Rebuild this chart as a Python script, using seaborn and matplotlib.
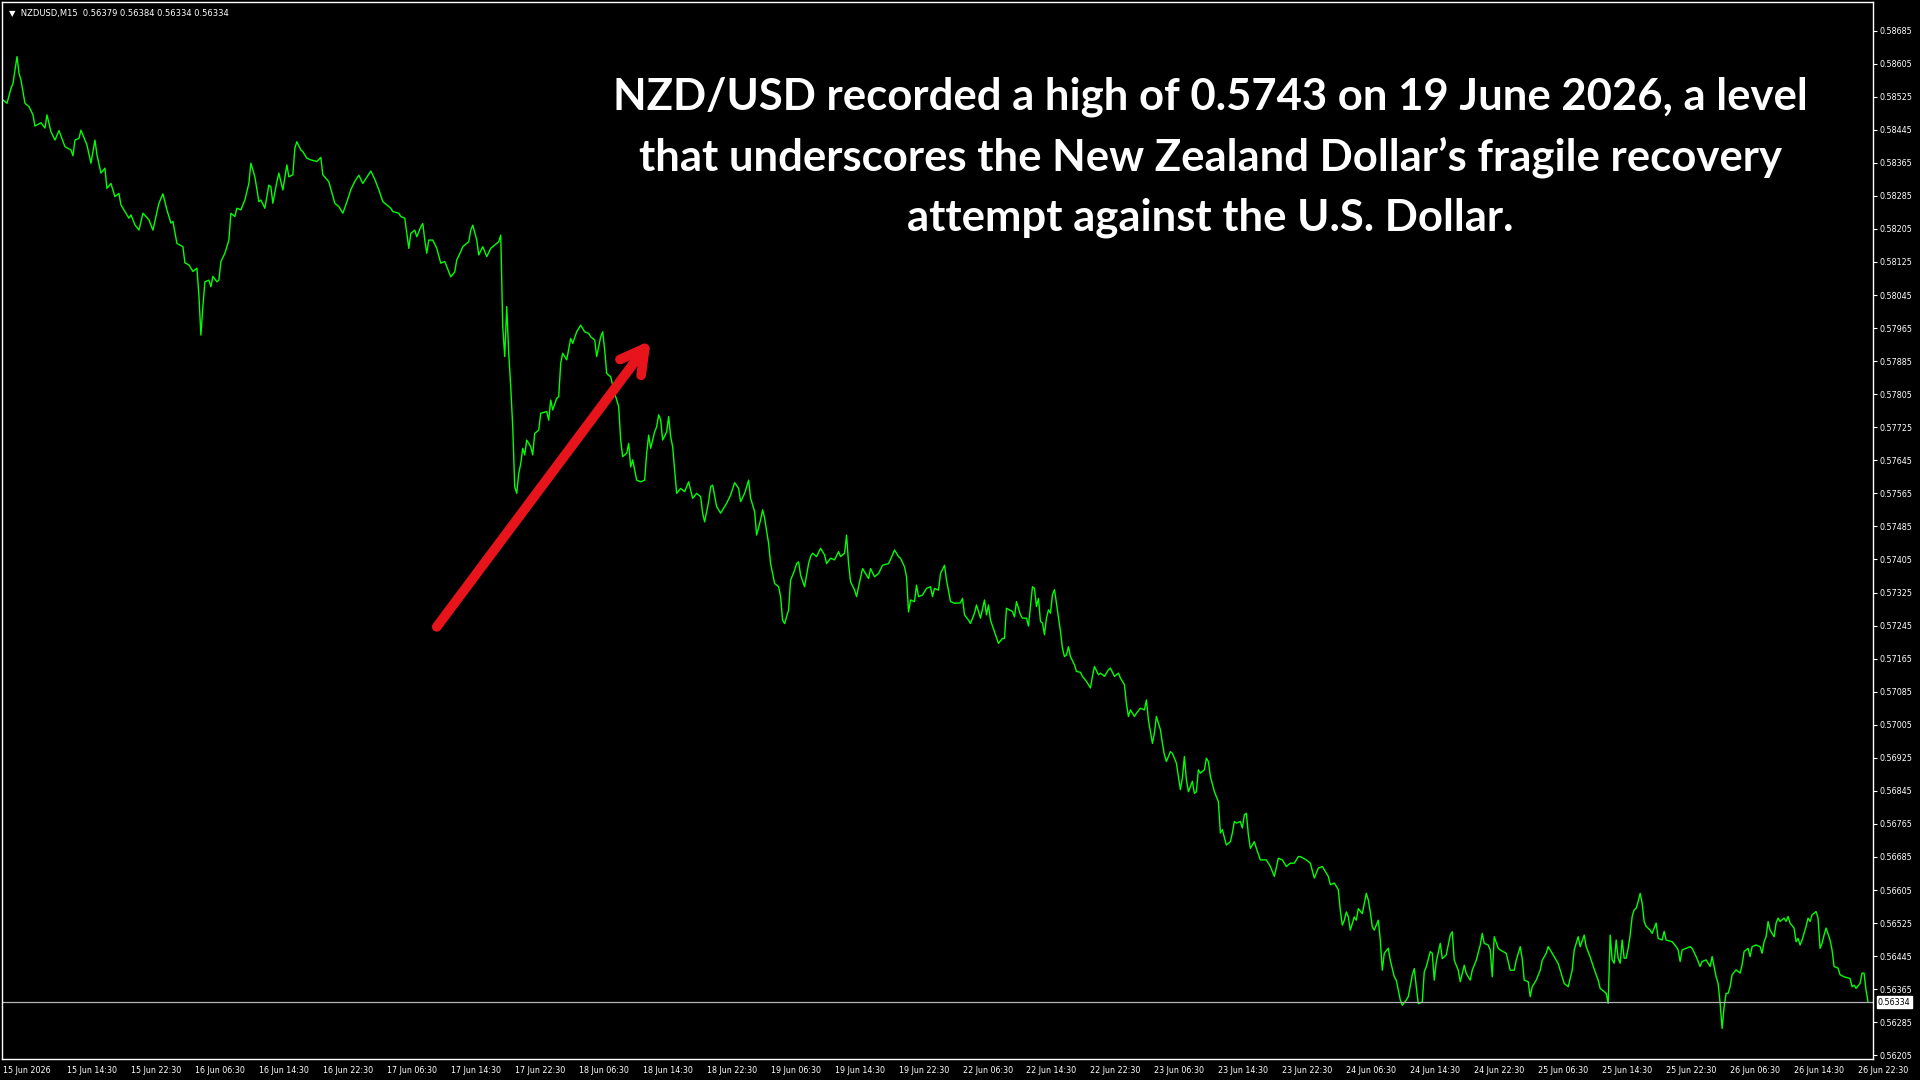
import matplotlib
matplotlib.use('Agg')
import matplotlib.pyplot as plt
import matplotlib.transforms as mtransforms
import numpy as np
import seaborn as sns

# M15 bar index (0 = 15 Jun 06:30) and close price
bar_idx = [0, 2, 4, 5, 7, 8, 9, 11, 13, 15, 16, 19, 21, 22, 24, 26, 28, 31, 34, 35,
           36, 38, 39, 42, 44, 46, 47, 49, 51, 52, 54, 56, 58, 59, 63, 64, 66, 68, 70, 73,
           75, 78, 80, 82, 84, 85, 87, 90, 91, 93, 95, 97, 98, 99, 100, 101, 103, 104, 105, 107,
           108, 109, 111, 113, 114, 116, 117, 119, 121, 123, 124, 126, 128, 129, 131, 133, 134, 135, 137, 138,
           140, 142, 143, 145, 146, 147, 149, 150, 152, 154, 157, 159, 160, 163, 166, 168,
           170, 172, 174, 176, 178, 180, 182, 184, 186, 188,
           190, 192, 194, 195, 198, 199, 201, 202, 203, 204, 206, 207, 209, 210, 211, 212, 213, 215, 217, 219,
           221, 223, 224, 226, 227, 229, 230, 233, 234, 235, 237, 238, 240, 242, 244, 246, 248, 249, 250, 251,
           252, 253, 254, 255, 256, 257, 258, 259, 260, 261, 262, 264, 265, 266, 268, 269, 272, 273, 274, 275,
           277, 278, 279, 280, 282, 284, 285, 287, 289, 291, 293, 294, 296, 297, 299, 300, 301, 302, 304, 306,
           308, 309, 310, 312, 313, 314, 315, 317, 319, 321,
           322, 323, 324, 326, 327, 328, 329, 330, 332, 333, 334, 335, 336, 337, 339, 341, 343, 345, 347, 349,
           350, 351, 353, 354, 355, 357, 359, 362, 364, 366, 368, 369, 371, 372, 373, 374, 376, 377, 379, 380,
           381, 383, 384, 386, 388, 389, 390, 391, 393, 394, 396, 397, 398, 399, 401, 403, 404, 405, 407, 409,
           411, 412, 414, 416, 418, 419, 421, 422, 423, 424, 426, 427, 428, 430, 431, 433, 434, 436, 438, 440,
           443, 445, 446, 448, 449, 451, 452, 453, 454, 456, 457, 458, 460, 462, 464, 465, 466, 468, 469, 471,
           472, 474, 476, 479, 480, 481, 483, 484, 486, 487, 489, 491, 492, 493, 494, 496, 498, 500, 501, 502,
           505, 506, 507, 509, 510, 512, 513, 515, 516, 517, 518,
           519, 520, 521, 522, 523, 524, 525, 526, 527, 529, 530, 531, 532, 533, 534, 536, 537, 539, 540, 542,
           544, 545, 546, 548, 549, 551, 553, 554, 556, 558, 559, 561, 562, 563, 564, 566, 567, 569, 571, 572,
           573, 575, 576, 577, 579, 580, 581, 582, 584, 585, 587, 588, 589, 590, 591, 592, 593, 595, 596, 597,
           598, 599, 601, 602, 603, 604, 606, 608, 609, 610, 612, 614, 615, 616, 617, 619, 620, 621, 622, 623,
           624, 626, 627, 629, 632, 634, 636, 638, 640, 642, 644, 646, 648, 649, 652, 654, 656, 658, 660, 663,
           664, 666, 668,
           669, 670, 671, 672, 673, 674, 676, 677, 678, 680, 682, 683, 684, 685, 686, 688, 689, 690, 691, 693,
           694, 696, 697, 699, 700, 702, 703, 705, 706, 707, 708, 710, 711, 712, 714, 715, 716, 717, 719, 720,
           722, 724, 725, 726, 728, 729, 731, 732, 734, 735, 737, 739, 740, 741, 743, 744, 745, 746, 748, 749,
           752, 754, 756, 757, 759, 760, 761, 763, 764, 765, 767, 769, 770, 772, 773, 775, 778, 779, 781, 783,
           785, 786, 788, 789, 791, 792, 794,
           795, 797, 798, 799, 801, 802, 803, 804, 805, 806, 807, 808, 809, 810, 811, 812, 813, 814, 815, 816,
           817, 818, 819, 820, 821, 822, 824, 825, 826, 827, 828, 830, 831, 832, 835, 837, 838, 839, 840, 842,
           844, 845, 847, 849, 850, 852, 854, 855, 857, 858, 859, 860, 861, 862, 863, 864, 865, 867, 869, 870,
           871, 873, 874, 875, 877, 879, 880, 881, 882, 883, 884, 886, 887, 888, 889, 891, 892, 893, 894, 896,
           897, 898, 899, 900, 902, 903, 904, 905, 907, 908, 909, 910, 911, 912, 914, 915, 916, 918, 919, 921,
           924, 925, 926, 927, 929, 930, 931, 932, 933]

close = [0.58517, 0.58509, 0.58545, 0.58557, 0.58622, 0.58582, 0.58565, 0.58509, 0.58501, 0.58481,
         0.58454, 0.58462, 0.58449, 0.58481, 0.58440, 0.58420, 0.58443, 0.58404, 0.58396, 0.58382,
         0.58420, 0.58424, 0.58444, 0.58408, 0.58364, 0.58420, 0.58384, 0.58340, 0.58352, 0.58303,
         0.58315, 0.58283, 0.58291, 0.58263, 0.58231, 0.58239, 0.58215, 0.58202, 0.58243, 0.58227,
         0.58202, 0.58267, 0.58290, 0.58251, 0.58219, 0.58223, 0.58170, 0.58162, 0.58123, 0.58118,
         0.58102, 0.58110, 0.58045, 0.57948, 0.58017, 0.58077, 0.58081, 0.58065, 0.58090, 0.58077,
         0.58081, 0.58126, 0.58146, 0.58178, 0.58243, 0.58235, 0.58255, 0.58251, 0.58275, 0.58315,
         0.58364, 0.58331, 0.58271, 0.58275, 0.58255, 0.58311, 0.58307, 0.58267, 0.58319, 0.58340,
         0.58299, 0.58360, 0.58331, 0.58336, 0.58400, 0.58416, 0.58396, 0.58392, 0.58376, 0.58372,
         0.58368, 0.58378, 0.58336, 0.58319, 0.58267, 0.58259,
         0.58243, 0.58270, 0.58300, 0.58320, 0.58335, 0.58315, 0.58330, 0.58345, 0.58325, 0.58300,
         0.58271, 0.58263, 0.58255, 0.58247, 0.58243, 0.58235, 0.58231, 0.58194, 0.58158, 0.58194,
         0.58202, 0.58186, 0.58210, 0.58218, 0.58178, 0.58146, 0.58178, 0.58178, 0.58158, 0.58122,
         0.58126, 0.58101, 0.58089, 0.58101, 0.58130, 0.58150, 0.58162, 0.58174, 0.58202, 0.58214,
         0.58178, 0.58142, 0.58162, 0.58138, 0.58158, 0.58166, 0.58174, 0.58190, 0.57968, 0.57896,
         0.58017, 0.57904, 0.57823, 0.57726, 0.57581, 0.57565, 0.57613, 0.57637, 0.57674, 0.57658,
         0.57694, 0.57678, 0.57658, 0.57710, 0.57718, 0.57759, 0.57763, 0.57742, 0.57791, 0.57767,
         0.57795, 0.57799, 0.57880, 0.57904, 0.57888, 0.57940, 0.57928, 0.57956, 0.57972, 0.57956,
         0.57952, 0.57944, 0.57936, 0.57896, 0.57944, 0.57956, 0.57912, 0.57855, 0.57847, 0.57807,
         0.57775, 0.57694, 0.57654, 0.57662, 0.57686, 0.57629, 0.57646, 0.57597, 0.57593, 0.57597,
         0.57662, 0.57706, 0.57674, 0.57714, 0.57726, 0.57755, 0.57743, 0.57694, 0.57714, 0.57751,
         0.57702, 0.57678, 0.57622, 0.57565, 0.57577, 0.57569, 0.57593, 0.57553, 0.57565, 0.57557,
         0.57517, 0.57496, 0.57545, 0.57581, 0.57585, 0.57533, 0.57517, 0.57541, 0.57561, 0.57591,
         0.57577, 0.57545, 0.57565, 0.57581, 0.57597, 0.57553, 0.57521, 0.57464, 0.57501, 0.57525,
         0.57505, 0.57444, 0.57395, 0.57347, 0.57339, 0.57315, 0.57258, 0.57250, 0.57283, 0.57355,
         0.57379, 0.57395, 0.57399, 0.57367, 0.57339, 0.57395, 0.57412, 0.57420, 0.57412, 0.57432,
         0.57416, 0.57395, 0.57408, 0.57404, 0.57424, 0.57412, 0.57420, 0.57464, 0.57395, 0.57351,
         0.57331, 0.57315, 0.57339, 0.57383, 0.57375, 0.57359, 0.57383, 0.57363, 0.57371, 0.57391,
         0.57395, 0.57416, 0.57428, 0.57412, 0.57408, 0.57387, 0.57363, 0.57278, 0.57307, 0.57303,
         0.57343, 0.57315, 0.57319, 0.57335, 0.57339, 0.57315, 0.57335, 0.57331, 0.57371, 0.57391,
         0.57355, 0.57303, 0.57299, 0.57300, 0.57311, 0.57271, 0.57258, 0.57250, 0.57275, 0.57295,
         0.57263, 0.57307, 0.57271, 0.57295, 0.57258, 0.57230, 0.57202, 0.57214, 0.57214, 0.57287,
         0.57279, 0.57266, 0.57303, 0.57271, 0.57263, 0.57263, 0.57244, 0.57339, 0.57335, 0.57291,
         0.57311,
         0.57255, 0.57251, 0.57223, 0.57263, 0.57283, 0.57275, 0.57320, 0.57332, 0.57299, 0.57231,
         0.57190, 0.57170, 0.57174, 0.57194, 0.57170, 0.57150, 0.57134, 0.57132, 0.57122, 0.57110,
         0.57094, 0.57122, 0.57146, 0.57126, 0.57130, 0.57122, 0.57138, 0.57142, 0.57122, 0.57130,
         0.57118, 0.57102, 0.57057, 0.57025, 0.57041, 0.57025, 0.57033, 0.57045, 0.57041, 0.57065,
         0.57017, 0.56960, 0.56985, 0.57025, 0.56993, 0.56960, 0.56932, 0.56916, 0.56940, 0.56936,
         0.56912, 0.56880, 0.56848, 0.56876, 0.56928, 0.56872, 0.56843, 0.56868, 0.56839, 0.56843,
         0.56896, 0.56888, 0.56896, 0.56924, 0.56916, 0.56880, 0.56843, 0.56819, 0.56743, 0.56751,
         0.56714, 0.56722, 0.56743, 0.56771, 0.56767, 0.56771, 0.56755, 0.56787, 0.56791, 0.56739,
         0.56706, 0.56722, 0.56706, 0.56678, 0.56678, 0.56662, 0.56638, 0.56682, 0.56678, 0.56662,
         0.56670, 0.56670, 0.56686, 0.56686, 0.56678, 0.56670, 0.56634, 0.56658, 0.56662, 0.56638,
         0.56618, 0.56622, 0.56606,
         0.56556, 0.56520, 0.56532, 0.56552, 0.56540, 0.56508, 0.56540, 0.56532, 0.56560, 0.56548,
         0.56597, 0.56581, 0.56552, 0.56516, 0.56508, 0.56532, 0.56484, 0.56411, 0.56452, 0.56464,
         0.56435, 0.56395, 0.56387, 0.56339, 0.56326, 0.56339, 0.56347, 0.56399, 0.56415, 0.56371,
         0.56330, 0.56334, 0.56407, 0.56419, 0.56456, 0.56452, 0.56387, 0.56431, 0.56476, 0.56439,
         0.56448, 0.56496, 0.56504, 0.56435, 0.56411, 0.56383, 0.56423, 0.56403, 0.56387, 0.56411,
         0.56435, 0.56472, 0.56500, 0.56476, 0.56472, 0.56460, 0.56395, 0.56492, 0.56464, 0.56460,
         0.56452, 0.56411, 0.56411, 0.56435, 0.56468, 0.56439, 0.56387, 0.56383, 0.56347, 0.56371,
         0.56387, 0.56411, 0.56435, 0.56452, 0.56468, 0.56452, 0.56427, 0.56411, 0.56379, 0.56371,
         0.56411, 0.56460, 0.56492, 0.56468, 0.56496, 0.56468, 0.56443,
         0.56428, 0.56400, 0.56387, 0.56367, 0.56359, 0.56355, 0.56331, 0.56496, 0.56436, 0.56428,
         0.56484, 0.56440, 0.56428, 0.56484, 0.56440, 0.56440, 0.56464, 0.56496, 0.56541, 0.56557,
         0.56561, 0.56577, 0.56597, 0.56573, 0.56529, 0.56517, 0.56508, 0.56500, 0.56513, 0.56525,
         0.56488, 0.56484, 0.56505, 0.56484, 0.56480, 0.56468, 0.56460, 0.56432, 0.56460, 0.56464,
         0.56468, 0.56464, 0.56444, 0.56420, 0.56432, 0.56436, 0.56420, 0.56444, 0.56395, 0.56379,
         0.56331, 0.56270, 0.56323, 0.56355, 0.56355, 0.56371, 0.56400, 0.56412, 0.56404, 0.56424,
         0.56456, 0.56464, 0.56444, 0.56468, 0.56472, 0.56468, 0.56452, 0.56480, 0.56492, 0.56529,
         0.56508, 0.56492, 0.56525, 0.56537, 0.56529, 0.56537, 0.56529, 0.56541, 0.56525, 0.56513,
         0.56480, 0.56488, 0.56472, 0.56484, 0.56517, 0.56537, 0.56529, 0.56545, 0.56553, 0.56537,
         0.56464, 0.56476, 0.56496, 0.56513, 0.56484, 0.56460, 0.56420, 0.56416, 0.56400, 0.56395,
         0.56391, 0.56371, 0.56375, 0.56367, 0.56379, 0.56404, 0.56404, 0.56363, 0.56334]

time_labels = ['15 Jun 2026', '15 Jun 14:30', '15 Jun 22:30', '16 Jun 06:30', '16 Jun 14:30',
               '16 Jun 22:30', '17 Jun 06:30', '17 Jun 14:30', '17 Jun 22:30', '18 Jun 06:30',
               '18 Jun 14:30', '18 Jun 22:30', '19 Jun 06:30', '19 Jun 14:30', '19 Jun 22:30',
               '22 Jun 06:30', '22 Jun 14:30', '22 Jun 22:30', '23 Jun 06:30', '23 Jun 14:30',
               '23 Jun 22:30', '24 Jun 06:30', '24 Jun 14:30', '24 Jun 22:30', '25 Jun 06:30',
               '25 Jun 14:30', '25 Jun 22:30', '26 Jun 06:30', '26 Jun 14:30', '26 Jun 22:30']
bars_per_label = 32

price_ticks = [0.58685, 0.58605, 0.58525, 0.58445, 0.58365, 0.58285, 0.58205, 0.58125,
               0.58045, 0.57965, 0.57885, 0.57805, 0.57725, 0.57645, 0.57565, 0.57485,
               0.57405, 0.57325, 0.57245, 0.57165, 0.57085, 0.57005, 0.56925, 0.56845,
               0.56765, 0.56685, 0.56605, 0.56525, 0.56445, 0.56365, 0.56285, 0.56205]

last_price = 0.56334
header = '\u25bc  NZDUSD,M15  0.56379 0.56384 0.56334 0.56334'
headline = ('NZD/USD recorded a high of 0.5743 on 19 June 2026, a level\n'
            'that underscores the New Zealand Dollar\u2019s fragile recovery\n'
            'attempt against the U.S. Dollar.')
# arrow annotation: tail / head as (bar index, price)
arrow_tail = (217, 0.57242)
arrow_head = (324, 0.57935)

sns.set_style('dark')
plt.rcParams['font.family'] = ['DejaVu Sans']

fig = plt.figure(figsize=(19.2, 10.8), dpi=100, facecolor='black')
ax = fig.add_axes([0.00104, 0.0194, 0.9745, 0.9787])
ax.set_facecolor('black')

sns.lineplot(x=bar_idx, y=close, color='#00ff00', linewidth=1.0, ax=ax)
ax.axhline(last_price, color='#b4b4b8', linewidth=0.9)

ax.set_xlim(-0.5, 935.5)
ax.set_ylim(0.56196, 0.58754)

for s in ax.spines.values():
    s.set_color('white')
    s.set_linewidth(1.0)

ax.grid(False)
ax.set_xlabel('')
ax.set_ylabel('')

ax.set_xticks([k * bars_per_label for k in range(len(time_labels))])
ax.set_xticklabels(time_labels, ha='left', fontsize=5.8, color='white')
ax.yaxis.tick_right()
ax.set_yticks(price_ticks)
ax.set_yticklabels([f'{t:.5f}' for t in price_ticks], fontsize=5.8, color='white')
ax.tick_params(axis='both', colors='white', length=3, width=0.8, pad=1.5)
ax.tick_params(axis='x', pad=2)

# last price box on the price scale
tr = mtransforms.blended_transform_factory(ax.transAxes, ax.transData)
ax.text(1.0025, last_price, f'{last_price:.5f}', transform=tr, fontsize=5.8,
        color='black', va='center', ha='left',
        bbox=dict(boxstyle='square,pad=0.15', facecolor='white', edgecolor='white'))

ax.text(0.0035, 0.9935, header, transform=ax.transAxes, fontsize=6.0,
        color='white', va='top', ha='left')

fig.text(0.6305, 1 - 157 / 1080, headline, ha='center', va='center', color='white',
         fontsize=31.4, fontweight='bold', family=['Lato', 'DejaVu Sans'], linespacing=1.58)

ax.annotate('', xy=arrow_head, xytext=arrow_tail,
            arrowprops=dict(arrowstyle='->,head_length=1.7,head_width=0.95',
                            color='#e8141c', lw=7, capstyle='round', joinstyle='round',
                            shrinkA=0, shrinkB=0))

fig.savefig('out.png', dpi=100, facecolor='black')
